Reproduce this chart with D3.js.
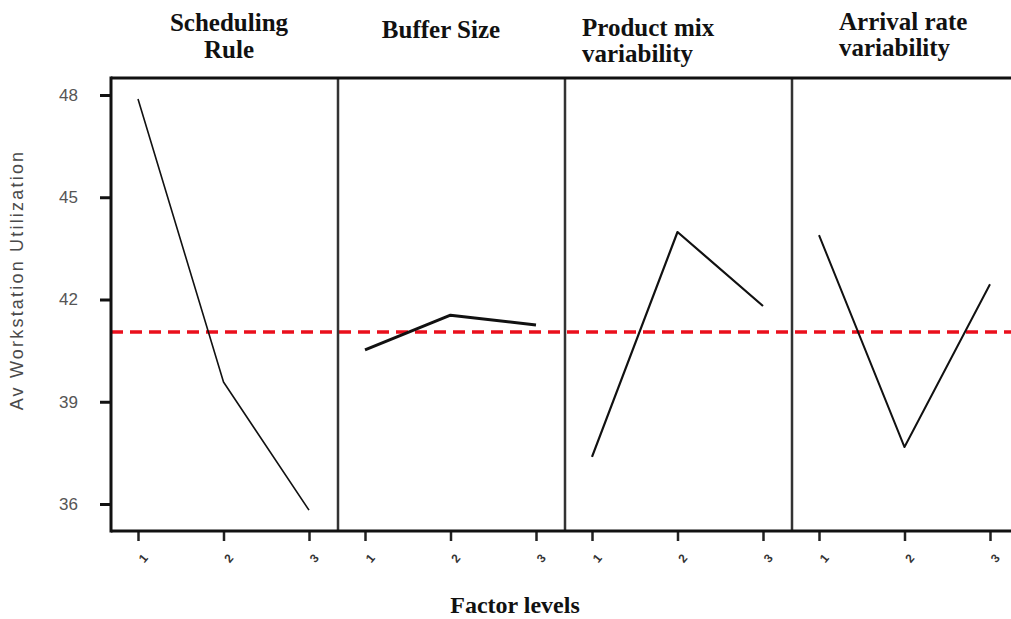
<!DOCTYPE html>
<html>
<head>
<meta charset="utf-8">
<script src="https://cdn.jsdelivr.net/npm/d3@7"></script>
<style>
  html, body { margin: 0; padding: 0; background: #fff; }
  svg { display: block; }
</style>
</head>
<body>
<svg id="chart" width="1011" height="619"></svg>
<script>
// ---- data ----
const factors = ["Scheduling Rule", "Buffer Size", "Product mix variability", "Arrival rate variability"];
const levels = [1, 2, 3];
const schedulingRule = [47.88, 39.58, 35.82];
const bufferSize = [40.52, 41.54, 41.25];
const productMix = [37.38, 43.98, 41.81];
const arrivalRate = [43.89, 37.67, 42.45];
const grandMean = 41.05;
const yTicks = [36, 39, 42, 45, 48];
const yTickLabels = ["36", "39", "42", "45", "48"];
const titleLines = [["Scheduling", "Rule"], ["Buffer Size"], ["Product mix", "variability"], ["Arrival rate", "variability"]];
const xTitle = "Factor levels";
const yTitle = "Av Workstation Utilization";

const seriesValues = [schedulingRule, bufferSize, productMix, arrivalRate];

// ---- layout / style (not data) ----
const plotLeft = 111, plotTop = 78, plotBottom = 531, panelW = 227;
const lineWidths = [1.6, 3, 2.2, 2];
const titleLayout = [
  { anchor: "middle", dx: 118, y: [31, 58] },
  { anchor: "middle", dx: 103, y: [38] },
  { anchor: "start", dx: 17, y: [36, 62] },
  { anchor: "start", dx: 47, y: [30, 56] }
];

const svg = d3.select("#chart");

const panel = d3.scaleBand().domain(factors).range([plotLeft, plotLeft + panelW * factors.length]).padding(0);
const xInner = d3.scalePoint().domain(levels).range([27, 198]);
const y = d3.scaleLinear().domain([36, 48]).range([504, 95]);

// red dashed mean line
svg.append("line")
  .attr("x1", plotLeft).attr("x2", 1011)
  .attr("y1", y(grandMean)).attr("y2", y(grandMean))
  .attr("stroke", "#ea0f1c").attr("stroke-width", 3.5)
  .attr("stroke-dasharray", "12,7");

factors.forEach((f, i) => {
  const x0 = panel(f);
  const g = svg.append("g").attr("transform", `translate(${x0},0)`);

  const line = d3.line().x((d, j) => xInner(levels[j])).y(d => y(d));
  g.append("path")
    .datum(seriesValues[i])
    .attr("fill", "none")
    .attr("stroke", "#111")
    .attr("stroke-width", lineWidths[i])
    .attr("stroke-linejoin", "round")
    .attr("d", line);

  const ax = g.append("g").attr("transform", `translate(0,${plotBottom})`)
    .call(d3.axisBottom(xInner).tickSize(10).tickPadding(6).tickSizeOuter(0));
  ax.select(".domain").remove();
  ax.selectAll(".tick line").attr("stroke", "#222").attr("stroke-width", 2.5);
  ax.selectAll(".tick text")
    .attr("font-family", "Arial, Liberation Sans, sans-serif")
    .attr("font-size", 12).attr("font-weight", "bold").attr("fill", "#333")
    .attr("text-anchor", "middle")
    .attr("dy", null).attr("y", 0)
    .attr("transform", "translate(8,30) rotate(-50)");

  if (i > 0) {
    svg.append("line")
      .attr("x1", x0).attr("x2", x0).attr("y1", plotTop).attr("y2", plotBottom)
      .attr("stroke", "#333").attr("stroke-width", 2.5);
  }

  const tl = titleLayout[i];
  titleLines[i].forEach((t, k) => {
    svg.append("text")
      .attr("x", x0 + tl.dx).attr("y", tl.y[k])
      .attr("text-anchor", tl.anchor)
      .attr("font-family", "Liberation Serif, Times New Roman, serif")
      .attr("font-weight", "bold").attr("font-size", 25)
      .attr("fill", "#111")
      .text(t);
  });
});

svg.append("line").attr("x1", plotLeft).attr("x2", 1011).attr("y1", plotTop).attr("y2", plotTop)
  .attr("stroke", "#111").attr("stroke-width", 3);
svg.append("line").attr("x1", plotLeft).attr("x2", 1011).attr("y1", plotBottom).attr("y2", plotBottom)
  .attr("stroke", "#111").attr("stroke-width", 3);

const yAx = svg.append("g").attr("transform", `translate(${plotLeft},0)`)
  .call(d3.axisLeft(y).tickValues(yTicks).tickFormat((d, i) => yTickLabels[i]).tickSize(11).tickPadding(22).tickSizeOuter(0));
yAx.select(".domain").remove();
yAx.selectAll(".tick line").attr("stroke", "#111").attr("stroke-width", 3);
yAx.selectAll(".tick text")
  .attr("font-family", "Arial, Liberation Sans, sans-serif")
  .attr("font-size", 17).attr("fill", "#555");
svg.append("line").attr("x1", plotLeft).attr("x2", plotLeft).attr("y1", plotTop - 1.5).attr("y2", plotBottom + 1.5)
  .attr("stroke", "#111").attr("stroke-width", 3);

svg.append("text")
  .attr("transform", "translate(23,280) rotate(-90)")
  .attr("text-anchor", "middle")
  .attr("font-family", "Arial, Liberation Sans, sans-serif")
  .attr("font-size", 18).attr("letter-spacing", "2.2px").attr("fill", "#4a4a4a")
  .text(yTitle);

svg.append("text")
  .attr("x", 515).attr("y", 613)
  .attr("text-anchor", "middle")
  .attr("font-family", "Liberation Serif, Times New Roman, serif")
  .attr("font-weight", "bold").attr("font-size", 24).attr("fill", "#111")
  .text(xTitle);
</script>
</body>
</html>
